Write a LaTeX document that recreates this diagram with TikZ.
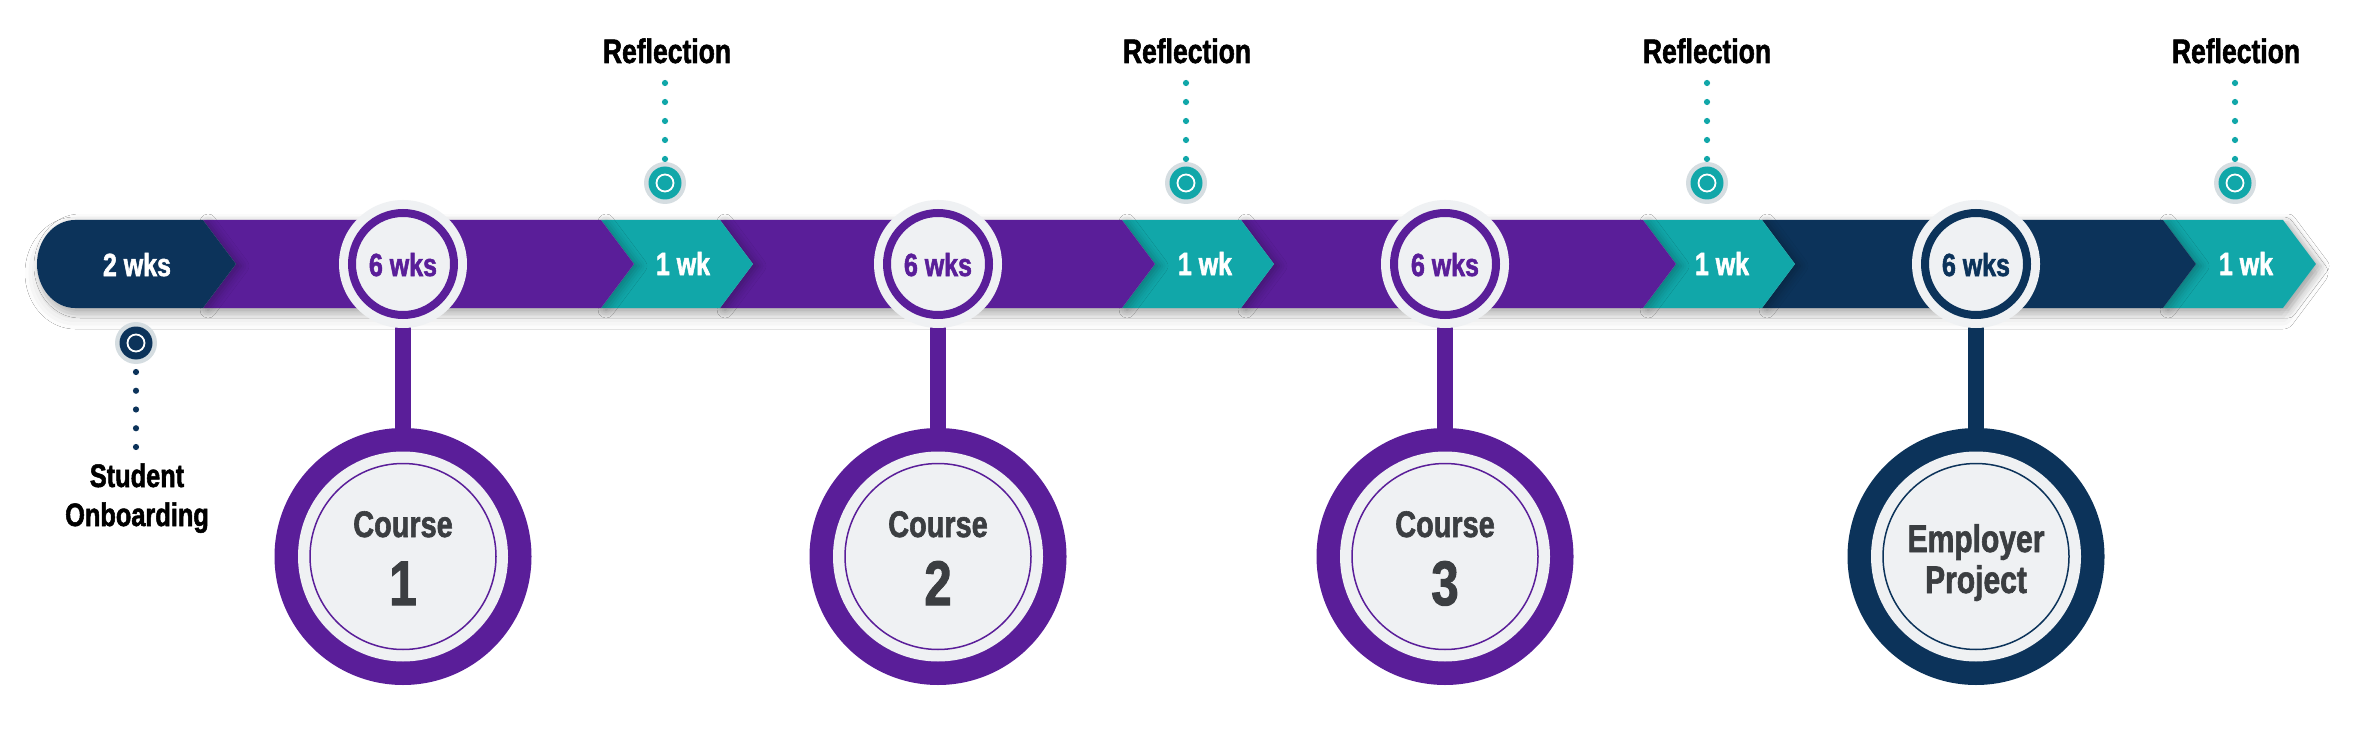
\documentclass[tikz,border=0pt]{standalone}
\usepackage{fontspec}
\setmainfont{Liberation Sans}[FakeStretch=0.78, BoldFeatures={FakeBold=1.6}]
\usetikzlibrary{shadows.blur}
\definecolor{cpurple}{HTML}{5A1E99}
\definecolor{cnavy}{HTML}{0C335A}
\definecolor{cteal}{HTML}{11A7A9}
\definecolor{clight}{HTML}{EFF1F3}
\definecolor{cring}{HTML}{D5DDE1}
\definecolor{ctext}{HTML}{3B3E41}
\tikzset{
  segshadow/.style={blur shadow={shadow xshift=5pt, shadow yshift=-2pt, shadow blur radius=8pt, shadow opacity=25}},
  bandshadow/.style={blur shadow={shadow xshift=0pt, shadow yshift=-9pt, shadow blur radius=12pt, shadow opacity=18}},
  wk/.style={font=\bfseries\fontsize{32}{38}\selectfont, anchor=base, inner sep=0pt},
  toplbl/.style={font=\bfseries\fontsize{34}{40}\selectfont, anchor=base, inner sep=0pt, text=black},
  sidelbl/.style={font=\bfseries\fontsize{32.5}{39}\selectfont, anchor=base, inner sep=0pt, text=black},
  coursetxt/.style={font=\bfseries\fontsize{37}{44}\selectfont, anchor=base, inner sep=0pt, text=ctext},
  numtxt/.style={font=\bfseries\fontsize{63}{70}\selectfont, anchor=base, inner sep=0pt, text=ctext},
  emptxt/.style={font=\bfseries\fontsize{38.5}{46}\selectfont, anchor=base, inner sep=0pt, text=ctext},
  disc/.style={circle, inner sep=0pt, minimum size=#1},
  dotline/.style={line width=6.2pt, line cap=round, dash pattern=on 0pt off #1},
  stem/.style={line width=16pt},
}
\begin{document}
\begin{tikzpicture}[x=1pt,y=-1pt]
\useasboundingbox (0,0) rectangle (2353,730);
\fill[white] (0,0) rectangle (2353,730);

% band shadow
\path[fill=white, bandshadow] (75,220) -- (2283,220) -- (2316,264) -- (2283,308) -- (75,308)
  .. controls (54,308) and (37,288) .. (37,264) .. controls (37,240) and (54,220) .. (75,220) -- cycle;

% segments, drawn right to left
\fill[cteal, segshadow]   (2163,220) -- (2283,220) -- (2316,264) -- (2283,308) -- (2163,308) -- (2196,264) -- cycle;
\fill[cnavy, segshadow]   (1762,220) -- (2163,220) -- (2196,264) -- (2163,308) -- (1762,308) -- (1795,264) -- cycle;
\fill[cteal, segshadow]   (1643,220) -- (1762,220) -- (1795,264) -- (1762,308) -- (1643,308) -- (1676,264) -- cycle;
\fill[cpurple, segshadow] (1241,220) -- (1643,220) -- (1676,264) -- (1643,308) -- (1241,308) -- (1274,264) -- cycle;
\fill[cteal, segshadow]   (1122,220) -- (1241,220) -- (1274,264) -- (1241,308) -- (1122,308) -- (1155,264) -- cycle;
\fill[cpurple, segshadow] (720,220) -- (1122,220) -- (1155,264) -- (1122,308) -- (720,308) -- (753,264) -- cycle;
\fill[cteal, segshadow]   (601,220) -- (720,220) -- (753,264) -- (720,308) -- (601,308) -- (634,264) -- cycle;
\fill[cpurple, segshadow] (203,220) -- (601,220) -- (634,264) -- (601,308) -- (203,308) -- (236,264) -- cycle;
\fill[cnavy, segshadow]   (203,220) -- (236,264) -- (203,308) -- (75,308)
  .. controls (54,308) and (37,288) .. (37,264) .. controls (37,240) and (54,220) .. (75,220) -- cycle;

% segment labels
\node[wk, text=white] (l0) at (137,276) {2 wks};
\node[wk, text=white] (l1) at (683,275) {1 wk};
\node[wk, text=white] (l2) at (1205,275) {1 wk};
\node[wk, text=white] (l3) at (1722,275) {1 wk};
\node[wk, text=white] (l4) at (2246,275) {1 wk};

% course / project circles
\foreach \n/\cx/\col in {1/403/cpurple,2/938/cpurple,3/1445/cpurple,4/1976/cnavy}{
  \coordinate (c\n) at (\cx,264);
  \coordinate (d\n) at (\cx,556.5);
  \draw[stem, \col] (c\n) -- (d\n);
  \node[disc=128, fill=clight] (o\n) at (c\n) {};
  \node[disc=102, draw=\col, line width=8pt, fill=clight] (s\n) at (c\n) {};
  \node[wk, text=\col] (w\n) at (\cx,276) {6 wks};
  \node[disc=257, fill=\col] (b\n) at (d\n) {};
  \node[disc=210, fill=clight] (i\n) at (d\n) {};
  \node[disc=186, draw=\col, line width=1.5pt] (t\n) at (d\n) {};
}
\node[coursetxt] (ct1) at (403,537) {Course};
\node[numtxt] (cn1) at (403,605) {1};
\node[coursetxt] (ct2) at (938,537) {Course};
\node[numtxt] (cn2) at (938,605) {2};
\node[coursetxt] (ct3) at (1445,537) {Course};
\node[numtxt] (cn3) at (1445,605) {3};
\node[emptxt] (e1) at (1976,552) {Employer};
\node[emptxt] (e2) at (1976,593) {Project};

% reflection markers
\foreach \n/\mx/\tx in {1/665/667,2/1186/1187,3/1707/1707,4/2235/2236}{
  \coordinate (ra\n) at (\mx,83);
  \coordinate (rb\n) at (\mx,159.5);
  \draw[dotline=19pt, cteal] (ra\n) -- (rb\n);
  \node[disc=42, fill=cring] (rm\n) at (\mx,183) {};
  \node[disc=33, fill=cteal] (rd\n) at (rm\n) {};
  \node[disc=17, draw=white, line width=1.8pt] (rw\n) at (rm\n) {};
  \node[toplbl] (rl\n) at (\tx,63) {Reflection};
}

% student onboarding marker
\coordinate (sa) at (136,372);
\coordinate (sb) at (136,447.5);
\draw[dotline=18.75pt, cnavy] (sa) -- (sb);
\node[disc=42, fill=cring] (sm) at (136,343) {};
\node[disc=33, fill=cnavy] (sd) at (sm) {};
\node[disc=17, draw=white, line width=1.8pt] (sw) at (sm) {};
\node[sidelbl] (st1) at (137,487) {Student};
\node[sidelbl] (st2) at (137,526) {Onboarding};
\end{tikzpicture}
\end{document}
